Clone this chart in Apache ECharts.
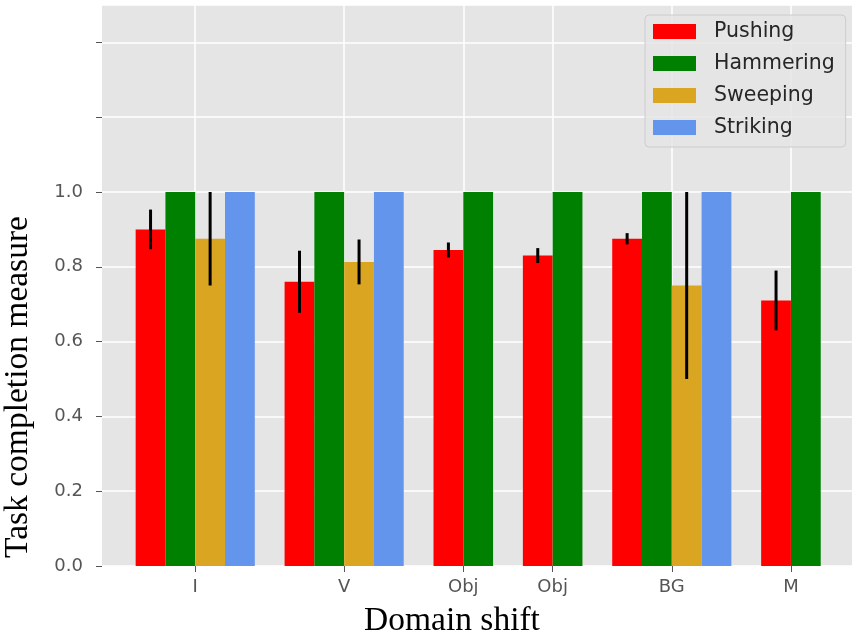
<!DOCTYPE html>
<html><head><meta charset="utf-8">
<script src="https://cdn.jsdelivr.net/npm/echarts@6/dist/echarts.min.js"></script>
<style>html,body{margin:0;padding:0;background:#fff}#c{width:858px;height:637px}</style>
</head><body><div id="c"></div>
<script>
// ---- data ----
const categories = ['I', 'V', 'Obj', 'Obj', 'BG', 'M'];
const groupPos = [0, 5, 9, 12, 16, 20];
const tasks = ['Pushing', 'Hammering', 'Sweeping', 'Striking'];
const pushing      = [0.90, 0.76, 0.845, 0.83, 0.875, 0.71];
const pushingErr   = [0.053, 0.083, 0.02, 0.02, 0.015, 0.08];
const hammering    = [1.0, 1.0, 1.0, 1.0, 1.0, 1.0];
const hammeringErr = [0, 0, 0, 0, 0, 0];
const sweeping     = [0.875, 0.813, null, null, 0.75, null];
const sweepingErr  = [0.125, 0.06, null, null, 0.25, null];
const striking     = [1.0, 1.0, null, null, 1.0, null];
const strikingErr  = [0, 0, null, null, 0, null];
// ---- styling ----
const colors = ['#ff0000', '#008000', '#daa520', '#6495ed'];
const values = [pushing, hammering, sweeping, striking];
const errs = [pushingErr, hammeringErr, sweepingErr, strikingErr];

function seriesData(s) {
  const out = [];
  for (let g = 0; g < categories.length; g++) {
    if (values[s][g] == null) continue;
    const present = [];
    for (let k = 0; k < tasks.length; k++) if (values[k][g] != null) present.push(k);
    const idx = present.indexOf(s);
    const off = idx - (present.length - 1) / 2;
    out.push([groupPos[g] + off, values[s][g], errs[s][g] || 0]);
  }
  return out;
}

function renderItem(params, api) {
  const x = api.value(0), y = api.value(1), e = api.value(2);
  const p0 = api.coord([x - 0.5, y]);
  const p1 = api.coord([x + 0.5, 0]);
  const children = [{
    type: 'rect',
    shape: { x: p0[0], y: p0[1], width: p1[0] - p0[0], height: p1[1] - p0[1] },
    style: { fill: api.visual('color') }
  }];
  if (e > 0) {
    const a = api.coord([x, y + e]), b = api.coord([x, y - e]);
    children.push({
      type: 'line', z2: 10,
      shape: { x1: a[0], y1: a[1], x2: b[0], y2: b[1] },
      style: { stroke: '#000', lineWidth: 3 }
    });
  }
  return { type: 'group', children };
}

const serif = '33.5px "Liberation Serif", "Times New Roman", serif';
const chart = echarts.init(document.getElementById('c'), null, { renderer: 'canvas' });
chart.setOption({
  animation: false,
  backgroundColor: '#fff',
  grid: { left: 102, right: 6, top: 5, bottom: 71, show: true, backgroundColor: '#e5e5e5', borderWidth: 0 },
  legend: {
    orient: 'vertical', left: 645, top: 15,
    data: tasks,
    icon: 'rect', itemWidth: 43, itemHeight: 15, itemGap: 11,
    padding: [6, 11, 9, 8],
    backgroundColor: 'rgba(229,229,229,0.85)',
    borderColor: '#cccccc', borderWidth: 1, borderRadius: 4,
    textStyle: { fontFamily: 'DejaVu Sans', fontSize: 20.5, color: '#262626', lineHeight: 20, padding: [0, 0, 0, 13] }
  },
  xAxis: {
    type: 'value', min: -3.13, max: 22.05,
    axisLine: { show: false, onZero: false },
    axisTick: { show: true, customValues: groupPos, length: 6, lineStyle: { color: '#555', width: 1 } },
    axisLabel: {
      customValues: groupPos,
      formatter: v => categories[groupPos.indexOf(v)] || '',
      fontFamily: 'DejaVu Sans', fontSize: 18, color: '#555', margin: 12
    },
    splitLine: { show: true, lineStyle: { color: '#fff', width: 1.5 } }
  },
  yAxis: {
    type: 'value', min: 0, max: 1.5, interval: 0.2,
    axisLine: { show: false, onZero: false },
    axisTick: { show: true, length: 6, lineStyle: { color: '#555', width: 1 } },
    axisLabel: {
      showMaxLabel: false,
      formatter: v => (v <= 1.0001 ? v.toFixed(1) : ''),
      fontFamily: 'DejaVu Sans', fontSize: 18, color: '#555', margin: 19
    },
    splitLine: { show: true, lineStyle: { color: '#fff', width: 1.5 } }
  },
  graphic: [
    { type: 'text', x: 18, y: 387, rotation: Math.PI / 2,
      style: { text: 'Task completion measure', font: serif,
               fill: '#000', align: 'center', verticalAlign: 'middle' } },
    { type: 'text', x: 452, y: 621,
      style: { text: 'Domain shift', font: serif,
               fill: '#000', align: 'center', verticalAlign: 'middle' } }
  ],
  series: tasks.map((t, s) => ({
    name: t, type: 'custom', renderItem,
    itemStyle: { color: colors[s] },
    encode: { x: 0, y: 1 },
    data: seriesData(s)
  }))
});
</script></body></html>
